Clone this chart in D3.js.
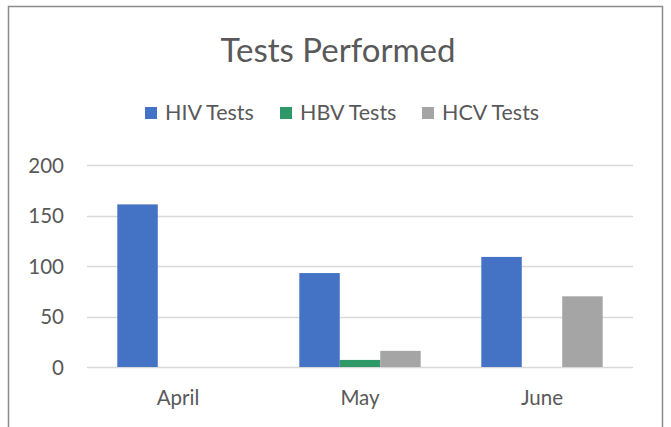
<!DOCTYPE html>
<html>
<head>
<meta charset="utf-8">
<script src="https://cdn.jsdelivr.net/npm/d3@7"></script>
<style>
  body { margin: 0; background: #fff; }
  text { font-family: Lato, "Open Sans", sans-serif; fill: #595959; }
</style>
</head>
<body>
<script>
// chart data
var months = ["April", "May", "June"];
var seriesNames = ["HIV Tests", "HBV Tests", "HCV Tests"];
var hivTests = [161, 93, 109];
var hbvTests = [0, 7, 0];
var hcvTests = [0, 16, 70];
var yTicks = [0, 50, 100, 150, 200];
var colors = ["#4472C4", "#2E9966", "#A5A5A5"];

var W = 671, H = 427;
var svg = d3.select("body").append("svg")
  .attr("width", W).attr("height", H);

// outer chart frame (bottom edge is off the picture)
svg.append("path")
  .attr("d", "M8.5," + (H + 5) + " V6.5 H662.5 V" + (H + 5))
  .attr("fill", "none").attr("stroke", "#8c8c8c").attr("stroke-width", 1.5);

svg.append("text")
  .attr("x", 338).attr("y", 62)
  .attr("text-anchor", "middle")
  .attr("font-size", 33)
  .text("Tests Performed");

// legend
var legendX = [145, 280, 422];
var legend = svg.selectAll(".leg").data(seriesNames).enter().append("g")
  .attr("class", "leg")
  .attr("transform", function (d, i) { return "translate(" + legendX[i] + ",107)"; });
legend.append("rect").attr("width", 12).attr("height", 12)
  .attr("fill", function (d, i) { return colors[i]; });
legend.append("text").attr("x", 20).attr("y", 13)
  .attr("font-size", 21.5).text(function (d) { return d; });

var x = d3.scaleBand().domain(months).range([87, 633]).paddingInner(0).paddingOuter(0);
var y = d3.scaleLinear().domain([0, 200]).range([367, 165]);
var groupWidth = x.bandwidth() * 0.667;
var xs = d3.scaleBand().domain(seriesNames).range([0, groupWidth]);

// gridlines
svg.selectAll(".grid").data(yTicks).enter().append("line")
  .attr("x1", 87).attr("x2", 633)
  .attr("y1", function (d) { return Math.round(y(d)) + 0.5; })
  .attr("y2", function (d) { return Math.round(y(d)) + 0.5; })
  .attr("stroke", "#d9d9d9").attr("stroke-width", 1.5);

// y axis labels
var yAxis = d3.axisLeft(y).tickValues(yTicks).tickSize(0).tickPadding(0);
var ya = svg.append("g").attr("transform", "translate(64,0)").call(yAxis);
ya.select(".domain").remove();
ya.selectAll("text").attr("font-size", 20.5).attr("font-family", null).attr("fill", null).attr("dy", "0.35em");

// bars
var table = months.map(function (m, i) {
  return { month: m, values: [hivTests[i], hbvTests[i], hcvTests[i]] };
});
var groups = svg.selectAll(".grp").data(table).enter().append("g")
  .attr("transform", function (d) {
    return "translate(" + (x(d.month) + (x.bandwidth() - groupWidth) / 2) + ",0)";
  });
groups.selectAll("rect").data(function (d) { return d.values; }).enter().append("rect")
  .attr("x", function (d, i) { return xs(seriesNames[i]); })
  .attr("width", xs.bandwidth())
  .attr("y", function (d) { return y(d); })
  .attr("height", function (d) { return y(0) - y(d); })
  .attr("fill", function (d, i) { return colors[i]; });

// x axis labels
var xAxis = d3.axisBottom(x).tickSize(0).tickPadding(0);
var xa = svg.append("g").attr("transform", "translate(0,390)").call(xAxis);
xa.select(".domain").remove();
xa.selectAll("text").attr("font-size", 20.5).attr("font-family", null).attr("fill", null);
</script>
</body>
</html>
